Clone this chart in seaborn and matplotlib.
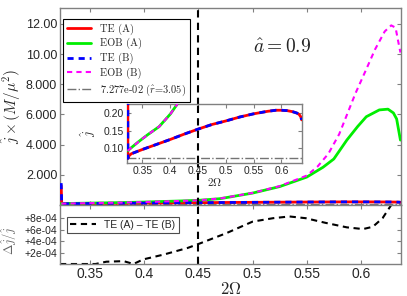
import matplotlib
matplotlib.use("Agg")
import matplotlib.pyplot as plt
import numpy as np
import pandas as pd
import seaborn as sns

# flux j vs 2*Omega
te_x = [0.3233, 0.3238, 0.3250, 0.33, 0.35, 0.375, 0.40, 0.425, 0.45, 0.475, 0.50,
        0.525, 0.55, 0.575, 0.59, 0.60, 0.61, 0.62, 0.628, 0.632, 0.635, 0.6365]
te_a = [1.30, 0.072, 0.078, 0.085, 0.097, 0.111, 0.125, 0.140, 0.154, 0.167, 0.177,
        0.188, 0.197, 0.204, 0.207, 0.207, 0.206, 0.203, 0.199, 0.195, 0.188, 0.180]
te_b = [1.45, 0.072, 0.078, 0.085, 0.097, 0.111, 0.125, 0.140, 0.154, 0.167, 0.177,
        0.188, 0.197, 0.204, 0.207, 0.207, 0.206, 0.203, 0.199, 0.195, 0.188, 0.180]

eob_a_x = [0.3233, 0.33, 0.344, 0.36, 0.38, 0.40, 0.413, 0.43, 0.45, 0.47, 0.50, 0.525,
           0.55, 0.565, 0.575, 0.587, 0.597, 0.605, 0.617, 0.625, 0.630, 0.633, 0.635, 0.6365]
eob_a = [0.093, 0.102, 0.120, 0.139, 0.161, 0.196, 0.225, 0.26, 0.31, 0.42, 0.79, 1.22,
         1.85, 2.5, 3.05, 4.3, 5.2, 5.85, 6.3, 6.35, 6.1, 5.7, 4.9, 4.3]

eob_b_x = [0.3233, 0.33, 0.344, 0.36, 0.38, 0.40, 0.413, 0.43, 0.45, 0.47, 0.50, 0.525,
           0.55, 0.56, 0.57, 0.58, 0.595, 0.605, 0.613, 0.622, 0.628, 0.632, 0.634, 0.6365]
eob_b = [0.093, 0.102, 0.120, 0.139, 0.161, 0.196, 0.225, 0.26, 0.31, 0.43, 0.80, 1.25,
         1.95, 2.55, 3.4, 4.7, 7.4, 9.0, 10.3, 11.5, 11.9, 11.75, 11.0, 10.1]

# relative difference TE (A) - TE (B)
diff_x = [0.3222, 0.33, 0.355, 0.365, 0.381, 0.39, 0.399, 0.418, 0.44, 0.4515, 0.476,
          0.50, 0.519, 0.534, 0.549, 0.567, 0.587, 0.602, 0.611, 0.62, 0.628, 0.6345]
diff = [0.0, 0.0, 0.0, 0.4e-4, 0.5e-4, 0.0, 0.8e-4, 1.65e-4, 2.8e-4, 3.6e-4, 5.4e-4,
        7.4e-4, 8.0e-4, 8.3e-4, 8.0e-4, 7.2e-4, 6.4e-4, 6.1e-4, 6.5e-4, 8.0e-4, 10.3e-4, 12.0e-4]

r_isco_j = 0.07277
omega_mark = 0.45
spin_text = r"$\hat{a}{=}0.9$"

xticks = [0.35, 0.40, 0.45, 0.50, 0.55, 0.60]
xticklabels = ["0.35", "0.4", "0.45", "0.5", "0.55", "0.6"]
main_yticks = [2, 4, 6, 8, 10, 12]
main_yticklabels = ["2.000", "4.000", "6.000", "8.000", "10.00", "12.00"]
diff_yticks = [2e-4, 4e-4, 6e-4, 8e-4]
diff_yticklabels = ["+2e-04", "+4e-04", "+6e-04", "+8e-04"]
inset_yticks = [0.10, 0.15, 0.20]
inset_yticklabels = ["0.10", "0.15", "0.20"]

sns.set_style("ticks")
plt.rcParams['font.family'] = ['Liberation Sans', 'DejaVu Sans']
plt.rcParams['mathtext.fontset'] = 'cm'

fig = plt.figure(figsize=(4.07, 2.96), dpi=100)
ax = fig.add_axes([0.1474, 0.3074, 0.8378, 0.6655])
ax2 = fig.add_axes([0.1474, 0.1081, 0.8378, 0.1993])
axin = fig.add_axes([0.312, 0.4493, 0.430, 0.1993])
axin.set_zorder(5)


def style(a, size):
    for s in a.spines.values():
        s.set_color('0.5')
        s.set_linewidth(1.0)
        s.set_visible(True)
    a.tick_params(direction='in', top=True, right=True, length=3, width=0.8,
                  color='0.5', labelsize=size, pad=2)


def curves(a):
    sns.lineplot(x=te_x, y=te_a, ax=a, color='#ff0000', lw=2, label='TE (A)', zorder=3)
    sns.lineplot(x=eob_a_x, y=eob_a, ax=a, color='#00ee00', lw=2, label='EOB (A)', zorder=3)
    sns.lineplot(x=te_x, y=te_b, ax=a, color='#0000ff', lw=2, dashes=(2.2, 1.8),
                 label='TE (B)', zorder=3)
    sns.lineplot(x=eob_b_x, y=eob_b, ax=a, color='#ff00ff', lw=1.5, dashes=(2.5, 2.0),
                 label='EOB (B)', zorder=3)
    a.axhline(r_isco_j, color='0.45', lw=1, ls='-.', label=r'7.277e-02 ($\hat{r}$=3.05)')
    a.axvline(omega_mark, color='black', lw=1.5, dashes=(3.5, 2.5), zorder=6)


xlim = (0.3222, 0.637)

curves(ax)
ax.set_xlim(*xlim)
ax.set_ylim(0, 13.05)
ax.set_xticks(xticks)
ax.set_xticklabels([])
ax.set_yticks(main_yticks)
ax.set_yticklabels(main_yticklabels)
style(ax, 9)
ax.set_ylabel(r"$\hat{j}\times(M/\mu^2)$", fontsize=11, labelpad=2)
ax.text(0.651, 0.80, spin_text, transform=ax.transAxes, fontsize=14,
        ha='center', va='center')
handles, labels = ax.get_legend_handles_labels()
leg = ax.legend(handles, labels, loc='upper left', bbox_to_anchor=(0.009, 0.944),
                borderaxespad=0, fancybox=False, edgecolor='black', framealpha=1,
                prop={'family': 'cmr10', 'size': 7.5}, handlelength=2.3,
                labelspacing=0.35, borderpad=0.4)
leg.get_frame().set_linewidth(0.8)
leg.set_zorder(7)

curves(axin)
axin.get_legend().remove()
axin.set_xlim(*xlim)
axin.set_ylim(0.059, 0.2245)
axin.set_xticks(xticks)
axin.set_xticklabels(xticklabels)
axin.set_yticks(inset_yticks)
axin.set_yticklabels(inset_yticklabels)
style(axin, 7.5)
axin.set_xlabel(r"$2\Omega$", fontsize=8, labelpad=0)
axin.set_ylabel(r"$\hat{j}$", fontsize=9, labelpad=4)
axin.set_facecolor('white')

sns.lineplot(x=diff_x, y=diff, ax=ax2, color='black', lw=1.5, dashes=(3.0, 2.2),
             label='TE (A) \u2013 TE (B)')
ax2.axvline(omega_mark, color='black', lw=1.5, dashes=(3.5, 2.5))
ax2.set_xlim(*xlim)
ax2.set_ylim(0, 1.03e-3)
ax2.set_xticks(xticks)
ax2.set_xticklabels(xticklabels)
ax2.set_yticks(diff_yticks)
ax2.set_yticklabels(diff_yticklabels)
style(ax2, 7.5)
ax2.tick_params(axis='x', labelsize=10)
ax2.set_xlabel(r"$2\Omega$", fontsize=12, labelpad=0)
ax2.set_ylabel(r"$\Delta\hat{j}/\hat{j}$", fontsize=9, color='0.4')
ax2.yaxis.set_label_coords(-0.12, 0.4)
leg2 = ax2.legend(loc='upper left', bbox_to_anchor=(0.0205, 0.80), borderaxespad=0,
                  fancybox=False, edgecolor='0.3', framealpha=1, fontsize=7.5,
                  handlelength=2.5, borderpad=0.3)
leg2.get_frame().set_linewidth(0.8)

fig.savefig("out.png", dpi=100)
